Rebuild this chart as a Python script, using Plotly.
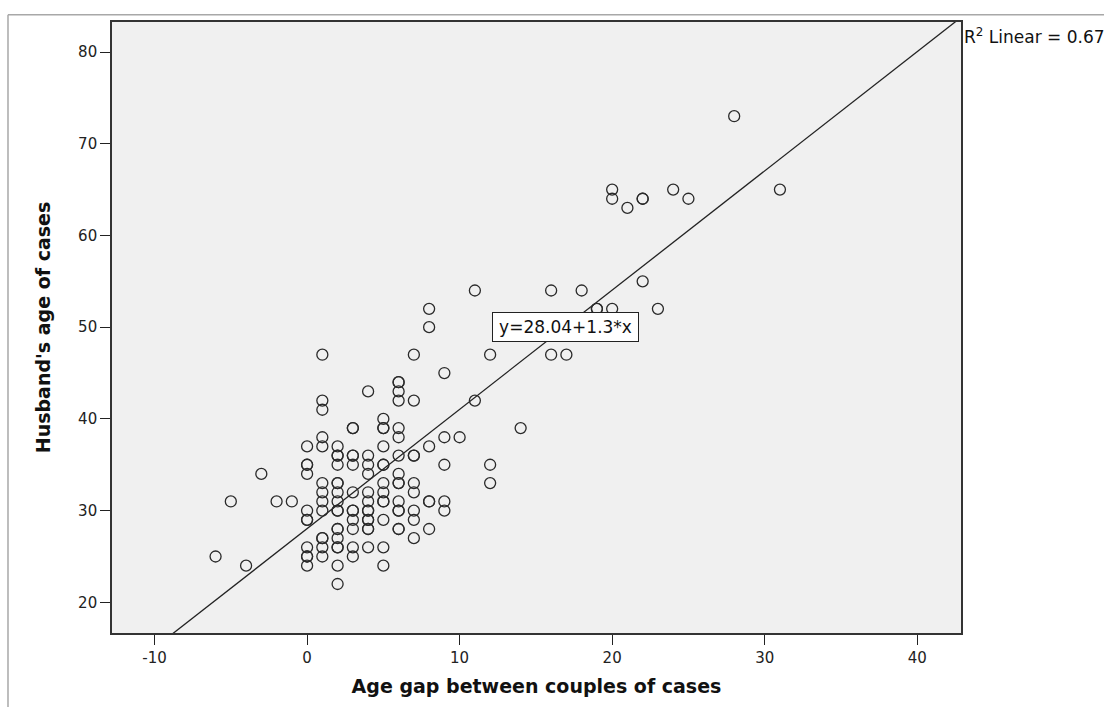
import plotly.graph_objects as go

# ---- data ----
age_gap = [
    -6, -5, -4, -3, -2, -1,
    0, 0, 0, 0, 0, 0, 0, 0, 0, 0, 0,
    1, 1, 1, 1, 1, 1, 1, 1, 1, 1, 1, 1, 1,
    2, 2, 2, 2, 2, 2, 2, 2, 2, 2, 2, 2, 2, 2, 2, 2, 2,
    3, 3, 3, 3, 3, 3, 3, 3, 3, 3, 3, 3,
    4, 4, 4, 4, 4, 4, 4, 4, 4, 4, 4, 4, 4,
    5, 5, 5, 5, 5, 5, 5, 5, 5, 5, 5, 5, 5,
    6, 6, 6, 6, 6, 6, 6, 6, 6, 6, 6, 6, 6, 6, 6,
    7, 7, 7, 7, 7, 7, 7, 7, 7,
    8, 8, 8, 8, 8, 8,
    9, 9, 9, 9, 9,
    10,
    11, 11,
    12, 12, 12,
    14,
    16, 16,
    17,
    18,
    19, 19,
    20, 20, 20,
    21,
    22, 22, 22,
    23,
    24,
    25,
    28,
    31,
]
husband_age = [
    25, 31, 24, 34, 31, 31,
    37, 35, 35, 34, 30, 29, 29, 26, 25, 25, 24,
    47, 42, 41, 38, 37, 33, 32, 31, 30, 27, 27, 26, 25,
    37, 36, 36, 35, 33, 33, 32, 31, 30, 30, 28, 28, 27, 26, 26, 24, 22,
    39, 39, 36, 36, 35, 32, 30, 30, 29, 28, 26, 25,
    43, 36, 35, 34, 32, 31, 30, 30, 29, 29, 28, 28, 26,
    40, 39, 39, 37, 35, 35, 33, 32, 31, 31, 29, 26, 24,
    44, 44, 43, 42, 39, 38, 36, 34, 33, 33, 31, 30, 30, 28, 28,
    47, 42, 36, 36, 33, 32, 30, 29, 27,
    52, 50, 37, 31, 31, 28,
    45, 38, 35, 31, 30,
    38,
    54, 42,
    47, 35, 33,
    39,
    54, 47,
    47,
    54,
    52, 52,
    65, 64, 52,
    63,
    64, 64, 55,
    52,
    65,
    64,
    73,
    65,
]

fit_intercept = 28.04
fit_slope = 1.3
r2_linear = "0.674"

x_tick_vals = [-10, 0, 10, 20, 30, 40]
x_tick_text = ["-10", "0", "10", "20", "30", "40"]
y_tick_vals = [20, 30, 40, 50, 60, 70, 80]
y_tick_text = ["20", "30", "40", "50", "60", "70", "80"]
x_range = [-12.79, 42.87]
y_range = [16.66, 83.27]

fit_x = [x_range[0], x_range[1]]
fit_y = [fit_intercept + fit_slope * v for v in fit_x]

fig = go.Figure()

fig.add_trace(go.Scatter(
    x=fit_x, y=fit_y, mode="lines",
    line=dict(color="#222222", width=1.3),
    hoverinfo="skip", showlegend=False,
))

fig.add_trace(go.Scatter(
    x=age_gap, y=husband_age, mode="markers",
    marker=dict(symbol="circle-open", size=11, color="#2a2a2a",
                line=dict(width=1.3, color="#2a2a2a")),
    showlegend=False,
))

tick_font = dict(family="DejaVu Sans", size=15, color="#222222")
title_font = dict(family="DejaVu Sans", size=19, color="#111111")

fig.update_xaxes(
    range=x_range, tickvals=x_tick_vals, ticktext=x_tick_text,
    ticks="outside", ticklen=10, tickcolor="#222222", tickwidth=1.3,
    showgrid=False, zeroline=False, showline=True, mirror=True,
    linecolor="#333333", linewidth=1.6, tickfont=tick_font,
    title=dict(text="<b>Age gap between couples of cases</b>", font=title_font,
               standoff=14),
)
fig.update_yaxes(
    range=y_range, tickvals=y_tick_vals, ticktext=y_tick_text,
    ticks="outside", ticklen=10, tickcolor="#222222", tickwidth=1.3,
    showgrid=False, zeroline=False, showline=True, mirror=True,
    linecolor="#333333", linewidth=1.6, tickfont=tick_font,
    title=dict(text="<b>Husband's age of cases</b>", font=title_font,
               standoff=22),
)

fig.add_annotation(
    x=16.94, y=49.98, xref="x", yref="y",
    text="y=28.04+1.3*x", showarrow=False,
    font=dict(family="DejaVu Sans", size=17, color="#111111"),
    bgcolor="white", bordercolor="#222222", borderwidth=1, borderpad=2,
    width=141, height=24,
)

fig.add_annotation(
    x=1.0, y=1.0, xref="paper", yref="paper", xanchor="left", yanchor="top",
    xshift=1, yshift=-1,
    text="R<sup>2</sup> Linear = " + r2_linear, showarrow=False,
    font=dict(family="DejaVu Sans", size=17, color="#111111"),
)

# outer chart frame (light gray)
fig.add_shape(type="line", xref="paper", yref="paper",
              x0=-0.1225, x1=1.3, y0=1.012, y1=1.012,
              line=dict(color="#a8a8a8", width=1.5))
fig.add_shape(type="line", xref="paper", yref="paper",
              x0=-0.1225, x1=-0.1225, y0=1.012, y1=-0.13,
              line=dict(color="#a8a8a8", width=1.5))

fig.update_layout(
    width=1104, height=707,
    margin=dict(l=112, r=143, t=22, b=74),
    plot_bgcolor="#f0f0f0", paper_bgcolor="white",
    showlegend=False,
)

fig.write_html("out.html")
